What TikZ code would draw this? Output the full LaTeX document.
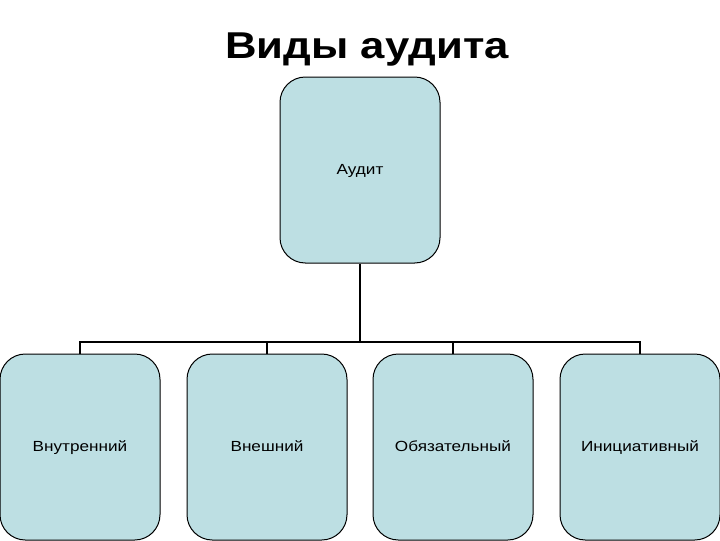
\documentclass[tikz,border=0pt]{standalone}
\usepackage{fontspec}
\setmainfont{Liberation Sans}[FakeStretch=1.17]
\usetikzlibrary{positioning}

\definecolor{boxfill}{RGB}{189,223,227}

\tikzset{every picture/.style={line width=0.75pt}}
\tikzset{
	kindbox/.style={draw=black, fill=boxfill, rounded corners=19pt, minimum width=120pt, minimum height=139.5pt, inner sep=0pt, text height=0.72em, text depth=0pt, font=\fontsize{11}{13}\selectfont},
	link/.style={line width=1.5pt}
}

\begin{document}
\begin{tikzpicture}[x=0.75pt,y=0.75pt,yscale=-1,xscale=1]
	\useasboundingbox (0,0) rectangle (720,540);

	% Title
	\node [font=\fontsize{28}{32}\selectfont\bfseries] (title) at (367,50) {Виды аудита};

	% Root box
	\node [kindbox] (audit) at (360,170) {Аудит};

	% Kinds
	\node [kindbox] (inner) at (80,447) {Внутренний};
	\node [kindbox] (outer) at (267,447) {Внешний};
	\node [kindbox] (oblig) at (453,447) {Обязательный};
	\node [kindbox] (initv) at (640,447) {Инициативный};

	% Bus
	\coordinate (bus) at (360,342);

	% Links
	\draw [link] (audit.south) -- (bus);
	\foreach \kid in {inner,outer,oblig,initv}
		\draw [link] (bus) -| (\kid.north);

\end{tikzpicture}
\end{document}
